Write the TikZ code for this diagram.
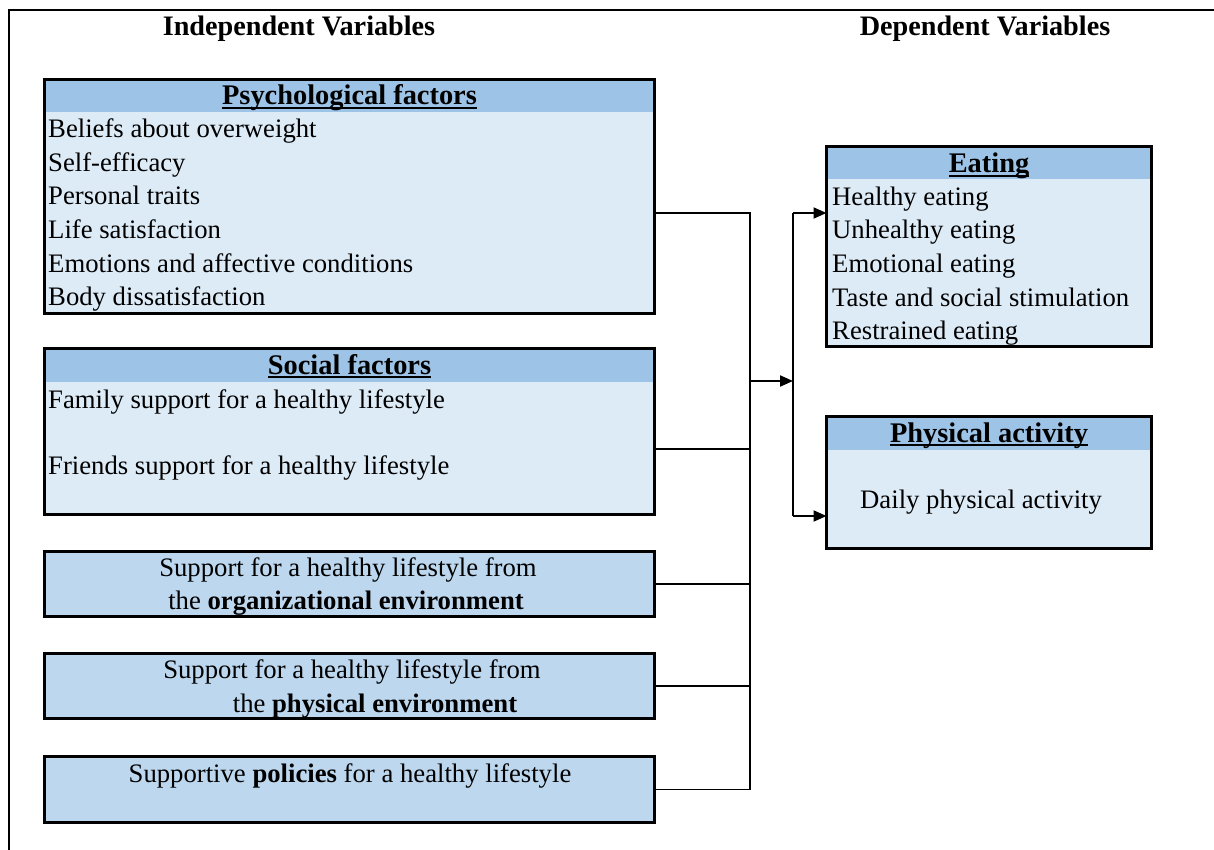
\documentclass[tikz,border=0pt]{standalone}
\usepackage{fontspec}
\setmainfont{Liberation Serif}
\usetikzlibrary{arrows.meta}
\definecolor{hdr}{HTML}{9DC3E6}
\definecolor{bodyc}{HTML}{DDEBF7}
\definecolor{solo}{HTML}{BDD7EE}
\newcommand\myul[1]{\setbox0\hbox{#1}\rlap{\rule[-4pt]{\wd0}{2.4pt}}\box0}
\tikzset{
  x=1pt,y=-1pt,
  bodytxt/.style={font=\fontsize{26.7}{30}\selectfont, inner sep=0pt, anchor=base west},
  ctrtxt/.style={font=\fontsize{26.7}{30}\selectfont, inner sep=0pt, anchor=base},
  hdrtxt/.style={font=\fontsize{28.4}{30}\selectfont\bfseries, inner sep=0pt, anchor=base},
  ttltxt/.style={font=\fontsize{28.2}{30}\selectfont\bfseries, inner sep=0pt, anchor=base},
  hbox/.style 2 args={draw, line width=3pt, fill=bodyc, rectangle, inner sep=0pt, outer sep=0pt,
     minimum width=#1, minimum height=#2,
     path picture={\fill[hdr] ([xshift=-2pt,yshift=2pt]path picture bounding box.north west) rectangle ([xshift=2pt,yshift=-33pt]path picture bounding box.north east);}},
  sbox/.style 2 args={draw, line width=3pt, fill=solo, rectangle, inner sep=0pt, outer sep=0pt,
     minimum width=#1, minimum height=#2},
  conn/.style={line width=1.6pt},
  arr/.style={line width=2pt, -{Triangle[length=13pt,width=11pt]}},
}
\begin{document}
\begin{tikzpicture}
\useasboundingbox (0,0) rectangle (1214,850);
% frame
\draw[line width=1.5pt] (9,850) -- (9,10) -- (1214,10);
% titles
\node[ttltxt] (tin) at (299,36) {Independent Variables};
\node[ttltxt] (tdep) at (985,36) {Dependent Variables};
% boxes
\node[hbox={610pt}{234pt}] (psych) at (349.5,196.5) {};
\node[hbox={610pt}{166pt}] (social) at (349.5,431.5) {};
\node[sbox={610pt}{65pt}] (org) at (349.5,584) {};
\node[sbox={610pt}{65pt}] (penv) at (349.5,686) {};
\node[sbox={610pt}{66pt}] (pol) at (349.5,789.5) {};
\node[hbox={325pt}{200pt}] (eat) at (989,246.5) {};
\node[hbox={325pt}{132pt}] (pa) at (989,482.5) {};
% psych text
\node[hdrtxt] (ph) at (349.5,105) {\myul{Psychological factors}};
\node[bodytxt] (p1) at (48,138) {Beliefs about overweight};
\node[bodytxt] (p2) at (48,172) {Self-efficacy};
\node[bodytxt] (p3) at (48,205) {Personal traits};
\node[bodytxt] (p4) at (48,239) {Life satisfaction};
\node[bodytxt] (p5) at (48,272) {Emotions and affective conditions};
\node[bodytxt] (p6) at (48,305) {Body dissatisfaction};
% social
\node[hdrtxt] (sh) at (349.5,374) {\myul{Social factors}};
\node[bodytxt] (s1) at (48,408) {Family support for a healthy lifestyle};
\node[bodytxt] (s2) at (48,474) {Friends support for a healthy lifestyle};
% org
\node[ctrtxt] (o1) at (348,576) {Support for a healthy lifestyle from};
\node[ctrtxt] (o2) at (346,609) {the \textbf{organizational environment}};
% physical env
\node[ctrtxt] (e1) at (352,678) {Support for a healthy lifestyle from};
\node[ctrtxt] (e2) at (375,712) {the \textbf{physical environment}};
% policies
\node[ctrtxt] (q1) at (350,782) {Supportive \textbf{policies} for a healthy lifestyle};
% eating
\node[hdrtxt] (eh) at (989,173) {\myul{Eating}};
\node[bodytxt] (t1) at (832,206) {Healthy eating};
\node[bodytxt] (t2) at (832,239) {Unhealthy eating};
\node[bodytxt] (t3) at (832,272) {Emotional eating};
\node[bodytxt] (t4) at (832,306) {Taste and social stimulation};
\node[bodytxt] (t5) at (832,339) {Restrained eating};
% physical activity
\node[hdrtxt] (pah) at (989,442) {\myul{Physical activity}};
\node[bodytxt] (pa1) at (860,508) {Daily physical activity};
% connectors
\coordinate (bt) at (750,213);
\coordinate (bm) at (750,381);
\coordinate (bb) at (750,789.5);
\coordinate (rt) at (793,213);
\coordinate (rm) at (793,381);
\coordinate (rb) at (793,516);
\draw[conn] (psych.east |- bt) -- (bt) -- (bb) -- (pol.east);
\draw[conn] ([yshift=-17.5pt]social.east) -- ([yshift=-17.5pt]social.east -| bt);
\draw[conn] (org.east) -- (org.east -| bt);
\draw[conn] (penv.east) -- (penv.east -| bt);
\draw[arr] (bm) -- (rm);
\draw[conn] (rt) -- (rb);
\draw[arr] (rt) -- (eat.west |- rt);
\draw[arr] (rb) -- (pa.west |- rb);
\end{tikzpicture}
\end{document}
